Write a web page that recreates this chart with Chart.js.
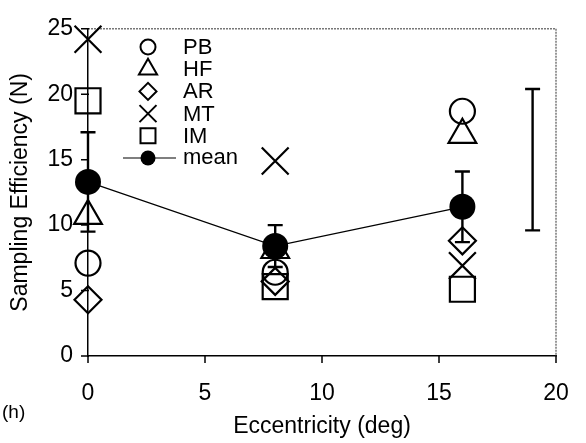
<!DOCTYPE html>
<html>
<head>
<meta charset="utf-8">
<script src="https://cdn.jsdelivr.net/npm/chart.js@4/dist/chart.umd.min.js"></script>
<style>
  html, body { margin: 0; padding: 0; background: #fff; }
</style>
</head>
<body>
<canvas id="effChart" width="586" height="443"></canvas>
<script>
'use strict'

// eccentricities tested (deg)
const ecc = [0, 8, 16];

// sampling efficiency per observer
const pbVals = [7.1, 6.4, 18.7];
const hfVals = [10.7, 8.1, 16.9];
const arVals = [4.3, 5.7, 8.8];
const mtVals = [24.2, 14.9, 6.9];
const imVals = [19.5, 5.3, 5.1];

// mean across observers and its error bar
const meanVals = [13.3, 8.4, 11.4];
const meanErr = [3.8, 1.6, 2.7];

// lone error bar at the right (typical spread)
const sdBarX = [19];
const sdBarMid = [15];
const sdBarHalf = [5.4];

const xTicks = [0, 5, 10, 15, 20];
const yTicks = [0, 5, 10, 15, 20, 25];

const FONT = 'Liberation Sans, Arial, sans-serif';

const pts = (vals) => ecc.map((x, i) => ({x: x, y: vals[i]}));

function hollow(label, vals, style, r) {
  return {
    label: label,
    data: pts(vals),
    pointStyle: style,
    pointRadius: r,
    pointHoverRadius: r,
    pointBorderColor: '#000',
    pointBackgroundColor: 'rgba(0,0,0,0)',
    pointBorderWidth: 2.2,
    showLine: false,
    clip: false
  };
}

function drawMarker(ctx, style, r, x, y, filled) {
  ctx.save();
  ctx.strokeStyle = '#000';
  ctx.fillStyle = filled ? '#000' : 'rgba(0,0,0,0)';
  ctx.lineWidth = filled ? 0 : 2;
  Chart.helpers.drawPoint(ctx, {pointStyle: style, rotation: 0, radius: r, borderWidth: filled ? 0 : 2}, x, y);
  ctx.restore();
}

const extras = {
  id: 'extras',
  beforeDatasetsDraw(chart) {
    const {ctx, chartArea: a} = chart;
    // dotted top and right frame
    ctx.save();
    ctx.strokeStyle = '#777';
    ctx.lineWidth = 1.5;
    ctx.setLineDash([2, 1]);
    ctx.beginPath();
    ctx.moveTo(a.left, a.top);
    ctx.lineTo(a.right, a.top);
    ctx.lineTo(a.right, a.bottom);
    ctx.stroke();
    ctx.restore();
  },
  afterDatasetsDraw(chart) {
    const {ctx} = chart;
    const xs = chart.scales.x, ys = chart.scales.y;
    const cap = 7.5;
    function bar(xv, lo, hi) {
      const px = xs.getPixelForValue(xv);
      const p1 = ys.getPixelForValue(lo), p2 = ys.getPixelForValue(hi);
      ctx.beginPath();
      ctx.moveTo(px, p1); ctx.lineTo(px, p2);
      ctx.moveTo(px - cap, p1); ctx.lineTo(px + cap, p1);
      ctx.moveTo(px - cap, p2); ctx.lineTo(px + cap, p2);
      ctx.stroke();
    }
    ctx.save();
    ctx.strokeStyle = '#000';
    ctx.lineWidth = 2.4;
    ecc.forEach((x, i) => bar(x, meanVals[i] - meanErr[i], meanVals[i] + meanErr[i]));
    sdBarX.forEach((x, i) => bar(x, sdBarMid[i] - sdBarHalf[i], sdBarMid[i] + sdBarHalf[i]));
    ctx.restore();
  },
  afterDraw(chart) {
    const {ctx, chartArea: a} = chart;
    const xs = chart.scales.x, ys = chart.scales.y;
    ctx.save();
    ctx.strokeStyle = '#000';
    ctx.lineWidth = 1.5;
    ctx.beginPath();
    yTicks.forEach(v => {
      const py = ys.getPixelForValue(v);
      ctx.moveTo(a.left - 7, py); ctx.lineTo(a.left + 1, py);
    });
    xTicks.forEach(v => {
      const px = xs.getPixelForValue(v);
      ctx.moveTo(px, a.bottom); ctx.lineTo(px, a.bottom + 7);
    });
    ctx.stroke();

    // legend
    const lx = 148, tx = 183, ly0 = 47, step = 22.2;
    const entries = [
      ['PB', 'circle', 7.5],
      ['HF', 'triangle', 10.5],
      ['AR', 'rectRot', 8.5],
      ['MT', 'crossRot', 12],
      ['IM', 'rect', 10.6]
    ];
    ctx.font = '22px ' + FONT;
    ctx.fillStyle = '#000';
    ctx.textBaseline = 'middle';
    ctx.textAlign = 'left';
    entries.forEach((e, i) => {
      const y = ly0 + i * step;
      drawMarker(ctx, e[1], e[2], lx, y, false);
      ctx.fillStyle = '#000';
      ctx.fillText(e[0], tx, y + 1);
    });
    const my = ly0 + 5 * step;
    ctx.lineWidth = 1.2;
    ctx.beginPath();
    ctx.moveTo(123, my); ctx.lineTo(176, my);
    ctx.stroke();
    drawMarker(ctx, 'circle', 7.5, lx, my, true);
    ctx.fillStyle = '#000';
    ctx.fillText('mean', tx, my);

    // panel letter
    ctx.font = '19px ' + FONT;
    ctx.fillText('(h)', 2, 413);
    ctx.restore();
  }
};

new Chart(document.getElementById('effChart'), {
  type: 'scatter',
  data: {
    datasets: [
      {
        label: 'mean',
        data: pts(meanVals),
        showLine: true,
        borderColor: '#000',
        borderWidth: 1.2,
        pointStyle: 'circle',
        pointRadius: 13,
        pointHoverRadius: 13,
        pointBackgroundColor: '#000',
        pointBorderColor: '#000',
        pointBorderWidth: 0,
        clip: false
      },
      hollow('PB', pbVals, 'circle', 12.5),
      hollow('HF', hfVals, 'triangle', 16),
      hollow('AR', arVals, 'rectRot', 13.5),
      hollow('MT', mtVals, 'crossRot', 19),
      hollow('IM', imVals, 'rect', 17.7)
    ]
  },
  options: {
    responsive: false,
    animation: false,
    events: [],
    layout: { padding: { top: 23, right: 30, left: 0, bottom: 0 } },
    plugins: { legend: { display: false }, tooltip: { enabled: false } },
    scales: {
      x: {
        type: 'linear',
        min: 0,
        max: 20,
        afterFit: (s) => { s.height = 87; },
        afterBuildTicks: (s) => { s.ticks = xTicks.map(v => ({value: v})); },
        ticks: { color: '#000', font: { family: FONT, size: 23 }, padding: 14, maxRotation: 0 },
        grid: { display: false, drawTicks: true, tickLength: 10 },
        border: { display: true, color: '#000', width: 1.5 },
        title: { display: true, text: 'Eccentricity (deg)', color: '#000', font: { family: FONT, size: 23 }, padding: { bottom: 3 } }
      },
      y: {
        min: 0,
        max: 25,
        afterFit: (s) => { s.width = 88; },
        afterBuildTicks: (s) => { s.ticks = yTicks.map(v => ({value: v})); },
        ticks: { color: '#000', font: { family: FONT, size: 23 }, padding: 15 },
        grid: { display: false, drawTicks: false },
        border: { display: true, color: '#000', width: 1.5 },
        title: { display: true, text: 'Sampling Efficiency (N)', color: '#000', font: { family: FONT, size: 23 }, padding: { top: 7 } }
      }
    }
  },
  plugins: [extras]
});
</script>
</body>
</html>
